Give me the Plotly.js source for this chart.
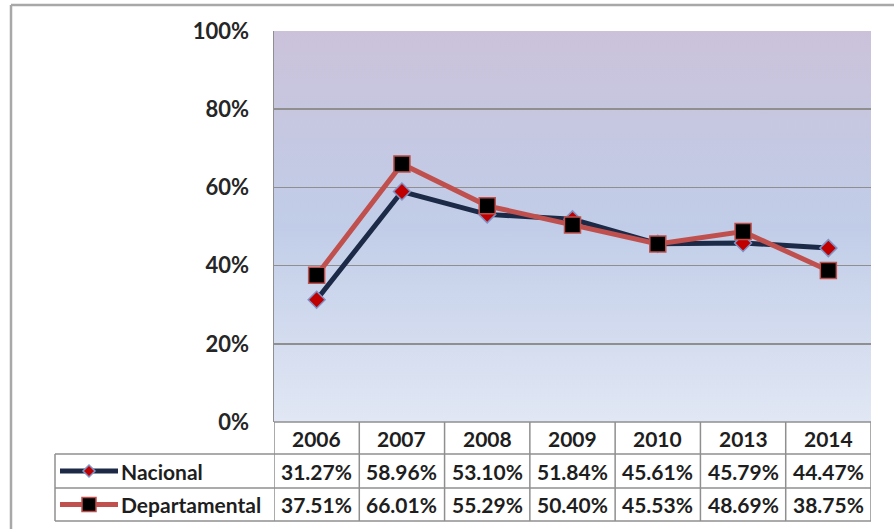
<!DOCTYPE html>
<html><head><meta charset="utf-8">
<script src="https://cdn.plot.ly/plotly-3.0.1.min.js"></script>
<style>html,body{margin:0;padding:0;background:#fff}</style></head>
<body>
<div id="chart" style="width:894px;height:529px"></div>
<script>
const years = ['2006','2007','2008','2009','2010','2013','2014'];
const nacional = [31.27, 58.96, 53.10, 51.84, 45.61, 45.79, 44.47];
const departamental = [37.51, 66.01, 55.29, 50.40, 45.53, 48.69, 38.75];
const seriesNames = ['Nacional', 'Departamental'];
const yTicks = [0, 20, 40, 60, 80, 100];

const W = 894, H = 529;
const M = {l: 274, r: 23, t: 31, b: 107};
const PW = W - M.l - M.r, PH = H - M.t - M.b;
const px = x => (x - M.l) / PW;
const py = y => (H - M.b - y) / PH;

const natColor = '#1c2a47', depColor = '#c0504d', gridColor = '#8f8f8f';
const txtFont = {family: 'Lato, "Open Sans", sans-serif', size: 21, color: '#1e1e1e', weight: 'bold'};

const fmt = v => v.toFixed(2) + '%';

const traces = [
  {x: years, y: nacional, name: seriesNames[0], type: 'scatter', mode: 'lines+markers',
   line: {color: natColor, width: 5},
   marker: {symbol: 'diamond', size: 13, color: '#c00000', line: {color: '#7f93c6', width: 1.5}}},
  {x: years, y: departamental, name: seriesNames[1], type: 'scatter', mode: 'lines+markers',
   line: {color: depColor, width: 5},
   marker: {symbol: 'square', size: 16, color: '#000000', line: {color: depColor, width: 1.5}}}
];

const shapes = [];
const annotations = [];
const L = (x0, y0, x1, y1, color, width, xref) => shapes.push({type: 'line', xref: xref || 'paper', yref: 'paper',
  x0: x0, y0: y0, x1: x1, y1: y1, line: {color: color, width: width}});

// outer frame
L(px(11), py(5), px(894), py(5), '#a8a8a8', 2.5);
L(px(11), py(5), px(11), py(529), '#a8a8a8', 2.5);

// table
const yHeadBot = 454, yRow1Bot = 488, yRow2Bot = 521, xTabL = 55;
for (let k = 0; k <= years.length; k++) {
  L(k - 0.5, py(422), k - 0.5, py(yRow2Bot), gridColor, 1.5, 'x');
}
L(-0.5, py(422), years.length - 0.5, py(422), gridColor, 1.5, 'x');
L(px(xTabL), py(yHeadBot), 1, py(yHeadBot), gridColor, 1.5);
L(px(xTabL), py(yRow1Bot), 1, py(yRow1Bot), gridColor, 1.5);
L(px(xTabL), py(yRow2Bot), 1, py(yRow2Bot), gridColor, 1.5);
L(px(xTabL), py(yHeadBot), px(xTabL), py(yRow2Bot), gridColor, 1.5);

const rowC = [(yHeadBot + yRow1Bot) / 2, (yRow1Bot + yRow2Bot) / 2];
const headC = (422 + yHeadBot) / 2;

years.forEach((yr, i) => {
  annotations.push({xref: 'x', yref: 'paper', x: i, y: py(headC), text: yr, showarrow: false,
    xanchor: 'center', yanchor: 'middle', font: txtFont});
  annotations.push({xref: 'x', yref: 'paper', x: i, y: py(rowC[0]), text: fmt(nacional[i]), showarrow: false,
    xanchor: 'center', yanchor: 'middle', font: txtFont});
  annotations.push({xref: 'x', yref: 'paper', x: i, y: py(rowC[1]), text: fmt(departamental[i]), showarrow: false,
    xanchor: 'center', yanchor: 'middle', font: txtFont});
});

// legend keys
const keyColors = [natColor, depColor];
seriesNames.forEach((nm, r) => {
  const cy = rowC[r];
  L(px(60), py(cy), px(118), py(cy), keyColors[r], 5);
  if (r === 0) {
    const cx = 89, s = 6;
    shapes.push({type: 'path', xref: 'paper', yref: 'paper',
      path: `M ${px(cx)} ${py(cy - s)} L ${px(cx + s)} ${py(cy)} L ${px(cx)} ${py(cy + s)} L ${px(cx - s)} ${py(cy)} Z`,
      fillcolor: '#c00000', line: {color: '#7f93c6', width: 1.5}});
  } else {
    shapes.push({type: 'rect', xref: 'paper', yref: 'paper',
      x0: px(82), x1: px(96), y0: py(cy - 7), y1: py(cy + 7),
      fillcolor: '#000000', line: {color: depColor, width: 1.5}});
  }
  annotations.push({xref: 'paper', yref: 'paper', x: px(119), y: py(cy), text: nm, showarrow: false,
    xanchor: 'left', yanchor: 'middle', font: txtFont});
});

const svg = '<svg xmlns="http://www.w3.org/2000/svg" width="100" height="100" preserveAspectRatio="none">' +
  '<defs><linearGradient id="g" x1="0" y1="0" x2="0" y2="1">' +
  '<stop offset="0" stop-color="#cbc2da"/><stop offset="0.5" stop-color="#c1cde8"/>' +
  '<stop offset="1" stop-color="#e1e7f4"/></linearGradient></defs>' +
  '<rect width="100" height="100" fill="url(#g)"/></svg>';

const layout = {
  width: W, height: H,
  margin: M,
  paper_bgcolor: '#ffffff', plot_bgcolor: 'rgba(0,0,0,0)',
  showlegend: false,
  images: [{source: 'data:image/svg+xml;charset=utf-8,' + encodeURIComponent(svg),
    xref: 'paper', yref: 'paper', x: 0, y: 1, sizex: 1, sizey: 1,
    xanchor: 'left', yanchor: 'top', sizing: 'stretch', layer: 'below'}],
  xaxis: {type: 'category', range: [-0.5, years.length - 0.5], showticklabels: false, showgrid: false,
    zeroline: false, showline: false, ticks: '', fixedrange: true},
  yaxis: {range: [0, 100], tickvals: yTicks, ticktext: yTicks.map(v => v + '%'),
    showgrid: true, gridcolor: gridColor, gridwidth: 1.5, zeroline: false,
    showline: true, linecolor: gridColor, linewidth: 1.5, ticks: '', ticklabelstandoff: 19,
    tickfont: {family: 'Lato, "Open Sans", sans-serif', size: 22, color: '#262626', weight: 'bold'}, fixedrange: true},
  shapes: shapes,
  annotations: annotations
};

Plotly.newPlot('chart', traces, layout, {displayModeBar: false, staticPlot: true});
</script>
</body></html>
